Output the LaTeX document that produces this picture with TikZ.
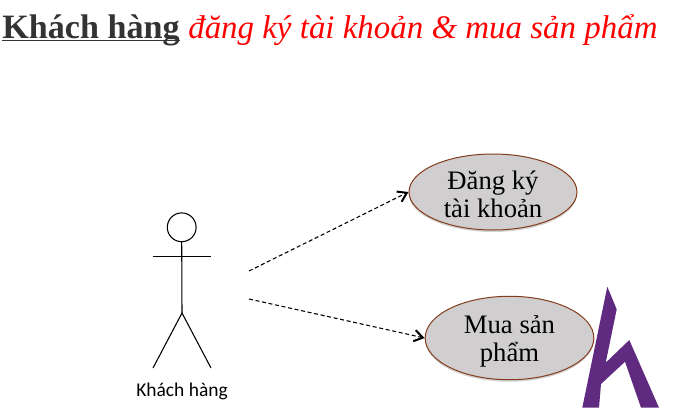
\documentclass[tikz,border=0pt]{standalone}
\usepackage{fontspec}
\setmainfont{Liberation Serif}
\newfontfamily\labelfont{Carlito}
\usetikzlibrary{shapes.geometric,arrows.meta,shadows}
\definecolor{usefill}{HTML}{D0CECE}
\definecolor{useline}{HTML}{843C1C}
\definecolor{logo}{HTML}{5F2A80}
\definecolor{titledark}{HTML}{333333}
\tikzset{
  usecase/.style={ellipse,draw=useline,line width=0.75pt,fill=usefill,inner sep=0pt,
    minimum width=126pt,minimum height=57pt,align=center,font=\fontsize{20}{21}\selectfont,
    drop shadow={shadow xshift=0pt,shadow yshift=-1.5pt,fill=black,opacity=0.18}},
  stick/.style={line width=0.8pt,draw=black},
  flow/.style={line width=0.8pt,densely dashed,draw=black,-{Straight Barb[length=6.5pt,width=8.5pt,line width=1.5pt]}}
}
\begin{document}
\begin{tikzpicture}[x=0.75pt,y=-0.75pt]
\useasboundingbox (0,0) rectangle (678,411);
\node[anchor=base west,inner sep=0pt] (title) at (2,38)
  {\fontsize{25.6}{28}\selectfont\textbf{\textcolor{titledark}{\underline{\smash{Khách hàng}}}}\hspace{6.5pt}\fontsize{24.7}{28}\selectfont\textcolor{red}{\itshape đăng ký tài khoản \& mua sản phẩm}};
% actor
\node[circle,stick,minimum size=21.6pt,inner sep=0pt] (head) at (181.7,227.3) {};
\coordinate (armL) at (152.7,256.4);
\coordinate (armR) at (210.7,256.4);
\coordinate (hip) at (182,313);
\coordinate (footL) at (153,368);
\coordinate (footR) at (211,368);
\draw[stick] (head.south) -- (hip);
\draw[stick] (armL) -- (armR);
\draw[stick] (footL) -- (hip) -- (footR);
\node[font=\labelfont\fontsize{14.6}{17}\selectfont,inner sep=0pt] (actorlabel) at (182,391) {Khách hàng};
% use cases
\node[usecase] (reg) at (493,192) {\rule{0pt}{17.5pt}Đăng ký\\tài khoản};
\node[usecase,minimum width=126.5pt] (buy) at (509.5,338) {\rule{0pt}{19pt}Mua sản\\phẩm};
\coordinate (from1) at (249,271);
\coordinate (from2) at (249,299);
\draw[flow] (from1) -- (reg.west);
\draw[flow] (from2) -- (buy.west);
% logo
\fill[logo] (607.3,286.7) -- (616.7,309.3) -- (605.7,362.7) -- (629.3,340) -- (659,407.7) -- (641,407.7) -- (625,361.7) -- (601,384) -- (599,407.7) -- (582.3,407.7) -- cycle;
\end{tikzpicture}
\end{document}
